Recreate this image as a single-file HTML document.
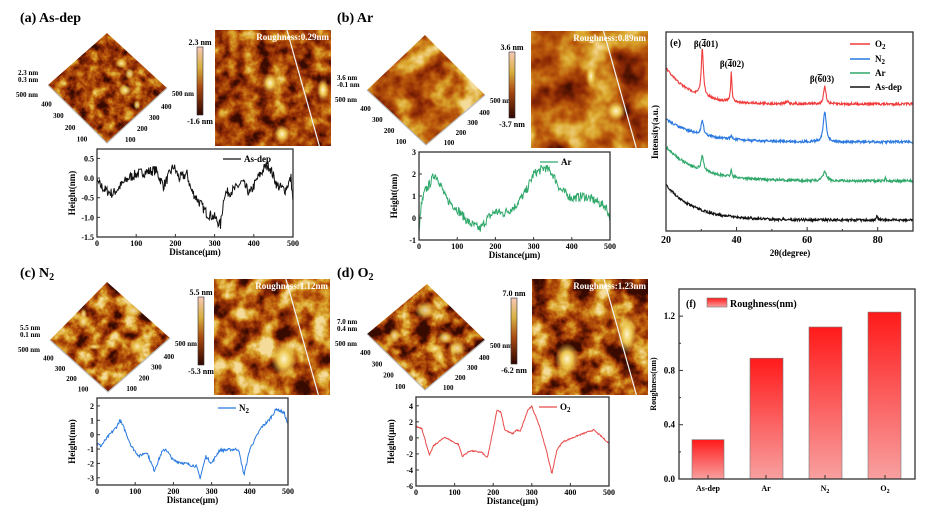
<!DOCTYPE html>
<html><head><meta charset="utf-8"><style>
body{margin:0;background:#fff}
svg{display:block;font-family:"Liberation Serif",serif;font-weight:bold}
</style></head><body>
<svg id="s" width="933" height="513" viewBox="0 0 933 513" xmlns="http://www.w3.org/2000/svg">
<defs>
<linearGradient id="cb" x1="0" y1="0" x2="0" y2="1"><stop offset="0" stop-color="#f6c8b8"/><stop offset="0.3" stop-color="#d8b040"/><stop offset="0.6" stop-color="#a84a10"/><stop offset="1" stop-color="#300500"/></linearGradient>
<linearGradient id="bar" x1="0" y1="0" x2="0" y2="1"><stop offset="0" stop-color="#ff1a1a"/><stop offset="1" stop-color="#f8a0a0"/></linearGradient>
<radialGradient id="blob"><stop offset="0" stop-color="#fff4d0"/><stop offset="0.45" stop-color="#ecc850"/><stop offset="1" stop-color="#e0b040" stop-opacity="0"/></radialGradient>
</defs>
<g id="fd"></g>
<g id="g"></g>
</svg>
<script>
var G=document.getElementById('g'),h='',fd='';
var seed=7;function rnd(){seed=(seed*16807)%2147483647;return seed/2147483647;}
var fid=0;
function mkfilter(freq,gain,off,sd){fid++;var g=gain,o=off;
 fd+='<filter id="tf'+fid+'" x="0" y="0" width="100%" height="100%" color-interpolation-filters="sRGB"><feTurbulence type="fractalNoise" baseFrequency="'+freq+'" numOctaves="4" seed="'+sd+'"/><feColorMatrix type="matrix" values="'+g+' 0 0 0 '+o+' '+g+' 0 0 0 '+o+' '+g+' 0 0 0 '+o+' 0 0 0 0 1"/><feComponentTransfer><feFuncR type="table" tableValues="0.22 0.55 0.74 0.86 0.96"/><feFuncG type="table" tableValues="0.04 0.16 0.36 0.66 0.86"/><feFuncB type="table" tableValues="0.0 0.02 0.05 0.18 0.6"/></feComponentTransfer></filter>';
 return 'tf'+fid;}
function t(x,y,s,sz,anc,extra){h+='<text x="'+x+'" y="'+y+'" font-size="'+sz+'" text-anchor="'+(anc||'start')+'" '+(extra||'')+'>'+s+'</text>';}
function interp(kp,x){for(var i=0;i<kp.length-1;i++){if(x>=kp[i][0]&&x<=kp[i+1][0]){var f=(x-kp[i][0])/(kp[i+1][0]-kp[i][0]);return kp[i][1]+f*(kp[i+1][1]-kp[i][1]);}}return kp[kp.length-1][1];}
function afm(P){
 var d=P.d;
 var L=d.l.split(',').map(Number),B=d.b.split(',').map(Number),R=d.r.split(',').map(Number),T=d.t.split(',').map(Number);
 fid++;var cid='cp'+fid;
 fd+='<clipPath id="'+cid+'"><polygon points="'+d.t+' '+d.r+' '+d.b+' '+d.l+'"/></clipPath>';
 var f1=mkfilter(P.fq*1.3,P.gn,P.of,P.sd);
 h+='<g clip-path="url(#'+cid+')"><rect x="'+(L[0]-2)+'" y="'+(T[1]-2)+'" width="'+(R[0]-L[0]+4)+'" height="'+(B[1]-T[1]+4)+'" filter="url(#'+f1+')"/>';
 for(var i=0;i<P.nb;i++){var cx=(L[0]+R[0])/2+(rnd()-0.5)*70,cy=(T[1]+B[1])/2+(rnd()-0.5)*55;h+='<ellipse cx="'+cx+'" cy="'+cy+'" rx="'+(3+rnd()*P.bs)+'" ry="'+(3+rnd()*P.bs*0.8)+'" fill="url(#blob)" opacity="0.85"/>';}
 h+='</g>';
 h+='<polyline points="'+d.l+' '+d.b+' '+d.r+'" fill="none" stroke="#bbb" stroke-width="1.2"/>';
 t(L[0]-30,L[1]-10,P.z1,7);t(L[0]-30,L[1]-3,P.z2,7);
 t(L[0]-10,L[1]+12,'500 nm',7,'end');
 ['400','300','200','100'].forEach(function(s,i){var f=(i+1)/5;t(L[0]+(B[0]-L[0])*f-8,L[1]+(B[1]-L[1])*f+10,s,7,'end');t(R[0]+(B[0]-R[0])*f+6,R[1]+(B[1]-R[1])*f+10,s,7);});
 t(R[0]+5,R[1]+8,'500 nm',7);
 var c=P.cb;h+='<rect x="'+c[0]+'" y="'+c[1]+'" width="6" height="'+c[2]+'" fill="url(#cb)" stroke="#333" stroke-width="0.6"/>';
 t(c[0]+3,c[1]-2,P.cmax,8,'middle');t(c[0]+3,c[1]+c[2]+9,P.cmin,8,'middle');
 var m=P.im;var f2=mkfilter(P.fq,P.gn,P.of,P.sd+3);
 h+='<svg x="'+m[0]+'" y="'+m[1]+'" width="'+m[2]+'" height="'+m[3]+'"><rect width="100%" height="100%" filter="url(#'+f2+')"/>';
 P.spots.forEach(function(s){h+='<ellipse cx="'+s[0]+'" cy="'+s[1]+'" rx="'+s[2]+'" ry="'+s[3]+'" fill="url(#blob)"/>';});
 h+='<line x1="'+(m[2]*0.62)+'" y1="0" x2="'+(m[2]*0.9)+'" y2="'+m[3]+'" stroke="#f4f4f4" stroke-width="1.2"/>';
 h+='</svg>';
 t(m[0]+m[2]-2,m[1]+10,'Roughness:'+P.rough,9,'end','fill="#fff"');
 t(P.tt[0],P.tt[1],P.title,14);
 var b=P.pb,x0=b[0],x1=b[2],y0=b[1],y1=b[3];
 function Y(v){return y1-(v-P.yr2[0])/(P.yr2[1]-P.yr2[0])*(y1-y0);}
 function X(v){return x0+v/500*(x1-x0);}
 var pts=[];for(var xx=0;xx<=500;xx+=1.5){pts.push(X(xx).toFixed(1)+','+(Y(interp(P.kp,xx)+(rnd()-0.5)*2*P.nz)).toFixed(1));}
 h+='<polyline points="'+pts.join(' ')+'" fill="none" stroke="'+P.col+'" stroke-width="1"/>';
 h+='<rect x="'+x0+'" y="'+y0+'" width="'+(x1-x0)+'" height="'+(y1-y0)+'" fill="none" stroke="#333" stroke-width="1.3"/>';
 for(var v=0;v<=500;v+=100){h+='<line x1="'+X(v)+'" y1="'+y1+'" x2="'+X(v)+'" y2="'+(y1-3)+'" stroke="#333"/>';t(X(v),y1+9,v,8,'middle');}
 P.yt.forEach(function(v){h+='<line x1="'+x0+'" y1="'+Y(v)+'" x2="'+(x0+3)+'" y2="'+Y(v)+'" stroke="#333"/>';t(x0-3,Y(v)+3,P.yf?v.toFixed(1):v,8,'end');});
 t(x0+(x1-x0)/2,y1+18,'Distance(μm)',9,'middle');
 var yc=(y0+y1)/2;t(x0-22,yc,P.ylab,9,'middle','transform="rotate(-90 '+(x0-22)+' '+yc+')"');
 h+='<line x1="'+(x1-70)+'" y1="'+(y0+10)+'" x2="'+(x1-52)+'" y2="'+(y0+10)+'" stroke="'+P.col+'" stroke-width="1.2"/>';
 t(x1-49,y0+13,P.leg,9);
}
afm({d:{t:'107,33',l:'48,85',b:'107,143',r:'167,88'},fq:0.07,gn:1.5,of:-0.38,sd:3,nb:6,bs:5,
 z1:'2.3 nm',z2:'0.3 nm',cb:[197,47,68],cmax:'2.3 nm',cmin:'-1.6 nm',im:[215,30,116,116],
 spots:[[55,53,8,10],[108,60,6,11],[67,104,8,9],[70,131,7,6]],rough:'0.29nm',tt:[20,22],title:'(a) As-dep',
 pb:[97,149,293,237],yr2:[-1.5,0.74],yt:[-1.5,-1,-0.5,0,0.5],yf:1,col:'#111',nz:0.13,leg:'As-dep',ylab:'Height(nm)',
 kp:[[0,-0.1],[20,-0.3],[40,-0.4],[60,-0.2],[80,0],[100,0.1],[120,0.15],[150,0.2],[170,-0.2],[195,0.3],[210,0],[230,0.1],[240,-0.3],[260,-0.6],[280,-0.9],[300,-1],[315,-1.2],[325,-0.4],[350,-0.3],[370,-0.1],[390,-0.4],[410,0],[430,0.3],[440,0.3],[460,-0.2],[480,-0.3],[495,0],[500,-0.6]]});
afm({d:{t:'425,35',l:'367,90',b:'426,145',r:'485,95'},fq:0.025,gn:1.9,of:-0.42,sd:11,nb:0,bs:8,
 z1:'3.6 nm',z2:'-0.1 nm',cb:[509,52,66],cmax:'3.6 nm',cmin:'-3.7 nm',im:[531,31,117,117],
 spots:[[60,45,5,12],[85,80,10,10]],rough:'0.89nm',tt:[337,22],title:'(b) Ar',
 pb:[419,152,610,240],yr2:[-1,3],yt:[-1,0,1,2,3],col:'#2fa86a',nz:0.2,leg:'Ar',ylab:'Height(nm)',
 kp:[[0,-0.8],[5,0.5],[15,1.2],[30,1.6],[40,2],[50,1.8],[70,0.9],[100,0.4],[130,-0.2],[160,-0.5],[180,0],[200,0.3],[220,0.2],[250,0.5],[280,1.2],[300,2],[330,2.3],[350,2],[370,1.3],[400,0.9],[430,1],[460,0.8],[490,0.5],[500,0]]});
afm({d:{t:'107,282',l:'50,340',b:'108,392',r:'170,338'},fq:0.05,gn:2.0,of:-0.48,sd:21,nb:5,bs:8,
 z1:'5.5 nm',z2:'0.1 nm',cb:[198,297,68],cmax:'5.5 nm',cmin:'-5.3 nm',im:[214,279,116,116],
 spots:[[70,80,13,18]],rough:'1.12nm',tt:[20,277],title:'(c) N<tspan font-size="10" dy="3">2</tspan>',
 pb:[97,398,288,485],yr2:[-3.5,2.55],yt:[-3,-2,-1,0,1,2],col:'#2a7ae0',nz:0.1,leg:'N<tspan font-size="7" dy="2">2</tspan>',ylab:'Height(nm)',
 kp:[[0,-0.6],[10,-0.8],[30,-0.1],[50,0.5],[60,1],[70,0.5],[90,-0.8],[110,-1.5],[130,-1.2],[150,-2.5],[170,-1.2],[180,-1],[200,-1.8],[230,-2],[260,-2.2],[270,-3],[285,-1.5],[300,-2],[320,-1.1],[370,-1],[385,-2.8],[400,-1],[430,0.5],[450,1],[470,1.8],[490,1.5],[500,0.7]]});
afm({d:{t:'427,284',l:'367,334',b:'425,390',r:'485,340'},fq:0.05,gn:2.0,of:-0.58,sd:31,nb:8,bs:8,
 z1:'7.0 nm',z2:'0.4 nm',cb:[511,298,66],cmax:'7.0 nm',cmin:'-6.2 nm',im:[532,279,116,116],
 spots:[[35,80,12,16],[95,55,10,20]],rough:'1.23nm',tt:[337,277],title:'(d) O<tspan font-size="10" dy="3">2</tspan>',
 pb:[416,397,609,486],yr2:[-6,5.1],yt:[-6,-4,-2,0,2,4],col:'#e84a4a',nz:0.08,leg:'O<tspan font-size="7" dy="2">2</tspan>',ylab:'Height(μm)',
 kp:[[0,1.4],[15,1.2],[25,-0.5],[35,-2.2],[45,-1],[75,0.1],[100,-0.6],[110,-0.8],[120,-2.3],[140,-1.6],[170,-1.8],[185,-2.5],[200,1],[210,3.5],[220,3.2],[230,1],[250,0.5],[260,1],[270,0.8],[290,3.5],[300,3.9],[320,1.5],[340,-2],[352,-4.5],[365,-1.5],[380,-0.5],[420,0.3],[460,1],[480,0.2],[500,-0.7]]});
function XX(v){return 666+(v-20)/70*247;}
function xrd(col,st,en,k,peaks,nz){var p=[];for(var x=20;x<=90;x+=0.12){var y=en+(st-en)*Math.exp(-(x-20)/k);peaks.forEach(function(q){y-=q[1]/(1+Math.pow((x-q[0])/q[2],2));});y+=(rnd()-0.5)*nz;p.push(XX(x).toFixed(1)+','+y.toFixed(1));}h+='<polyline points="'+p.join(' ')+'" fill="none" stroke="'+col+'" stroke-width="1.1"/>';}
xrd('#f03c3c',68,104,7,[[30.3,48,0.35],[38.5,31,0.2],[65,17,0.4],[54.5,2,0.5]],2.5);
xrd('#2a78e0',119,142,9,[[30.3,15,0.4],[65,30,0.5],[38.5,3,0.3]],2.5);
xrd('#2fa86a',147,181,9,[[30.3,15,0.4],[65,9,0.6],[38.5,7,0.2],[82.2,4,0.15]],2.5);
xrd('#111',185,220,8,[[79.8,4,0.2]],2.5);
h+='<rect x="666" y="32" width="247" height="199" fill="none" stroke="#333" stroke-width="1.3"/>';
[20,40,60,80].forEach(function(v){h+='<line x1="'+XX(v)+'" y1="231" x2="'+XX(v)+'" y2="227" stroke="#333"/>';t(XX(v),243,v,10,'middle');});
[30,50,70].forEach(function(v){h+='<line x1="'+XX(v)+'" y1="231" x2="'+XX(v)+'" y2="229" stroke="#333"/>';});
t(790,256,'2θ(degree)',9,'middle');
t(658,132,'Intensity(a.u.)',9,'middle','transform="rotate(-90 658 132)"');
t(670,46,'(e)',10);
t(706,47,'β(<tspan text-decoration="overline">4</tspan>01)',9,'middle');
t(732,67,'β(<tspan text-decoration="overline">4</tspan>02)',9,'middle');
t(822,82,'β(<tspan text-decoration="overline">6</tspan>03)',9,'middle');
[['#f03c3c','O<tspan font-size="7" dy="2">2</tspan>',44],['#2a78e0','N<tspan font-size="7" dy="2">2</tspan>',59],['#2fa86a','Ar',73],['#111','As-dep',87]].forEach(function(l){h+='<line x1="850" y1="'+l[2]+'" x2="870" y2="'+l[2]+'" stroke="'+l[0]+'" stroke-width="1.5"/>';t(875,l[2]+3,l[1],9);});
function BY(v){return 479-v/1.4*190;}
[[692,724,0.29],[750,783,0.89],[809,842,1.12],[868,901,1.23]].forEach(function(b){h+='<rect x="'+b[0]+'" y="'+BY(b[2])+'" width="'+(b[1]-b[0])+'" height="'+(479-BY(b[2]))+'" fill="url(#bar)" stroke="#777" stroke-width="0.6"/>';});
h+='<rect x="679" y="289" width="236" height="190" fill="none" stroke="#333" stroke-width="1.3"/>';
[0,0.4,0.8,1.2].forEach(function(v){h+='<line x1="679" y1="'+BY(v)+'" x2="683" y2="'+BY(v)+'" stroke="#333"/>';t(675,BY(v)+3,v.toFixed(1),9,'end');});
[0.2,0.6,1.0].forEach(function(v){h+='<line x1="679" y1="'+BY(v)+'" x2="681" y2="'+BY(v)+'" stroke="#333"/>';});
[[708,'As-dep'],[766,'Ar'],[825,'N<tspan font-size="6" dy="2">2</tspan>'],[885,'O<tspan font-size="6" dy="2">2</tspan>']].forEach(function(l){h+='<line x1="'+l[0]+'" y1="479" x2="'+l[0]+'" y2="475" stroke="#333"/>';t(l[0],491,l[1],8,'middle');});
t(656,384,'Roughness(nm)',8,'middle','transform="rotate(-90 656 384)"');
t(686,307,'(f)',10);
h+='<rect x="707" y="298" width="20" height="9" fill="url(#bar)" stroke="#777" stroke-width="0.6"/>';
t(730,307,'Roughness(nm)',10);
document.getElementById('fd').innerHTML=fd;
G.innerHTML=h;
</script>
</body></html>
